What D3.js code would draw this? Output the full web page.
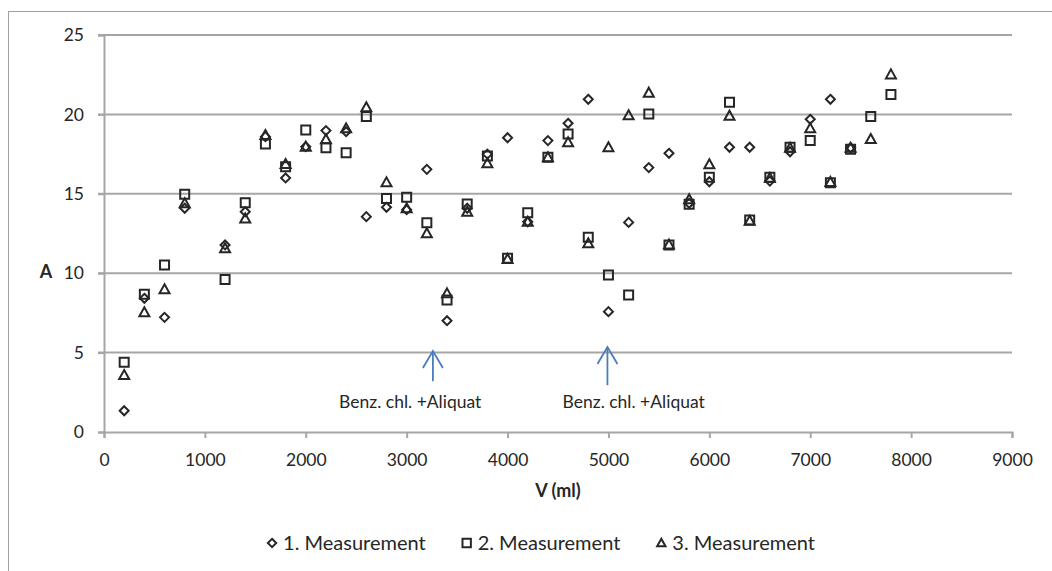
<!DOCTYPE html>
<html>
<head>
<meta charset="utf-8">
<script src="https://cdn.jsdelivr.net/npm/d3@7"></script>
<style>
  body { margin: 0; background: #fff; }
  svg { display: block; font-family: Lato, "Open Sans", sans-serif; }
</style>
</head>
<body>
<svg></svg>
<script>
// Data
const volumes = [200, 400, 600, 800, 1200, 1400, 1600, 1800, 2000, 2200, 2400, 2600, 2800, 3000, 3200, 3400, 3600, 3800, 4000, 4200, 4400, 4600, 4800, 5000, 5200, 5400, 5600, 5800, 6000, 6200, 6400, 6600, 6800, 7000, 7200, 7400, 7600, 7800];
const measurement1 = [1.34, 8.42, 7.22, 14.09, 11.78, 13.87, 18.6, 16.0, 17.97, 18.98, 18.91, 13.56, 14.15, 14.0, 16.54, 7.01, 14.09, 17.5, 18.53, 13.24, 18.35, 19.44, 20.95, 7.58, 13.2, 16.65, 17.55, 14.4, 15.76, 17.93, 17.93, 15.8, 17.65, 19.69, 20.95, 17.9, null, null];
const measurement2 = [4.39, 8.67, 10.52, 14.97, 9.61, 14.44, 18.14, 16.7, 19.02, 17.9, 17.59, 19.86, 14.71, 14.78, 13.18, 8.31, 14.36, 17.38, 10.94, 13.81, 17.3, 18.77, 12.26, 9.89, 8.63, 20.02, 11.78, 14.34, 16.04, 20.76, 13.35, 16.04, 17.93, 18.35, 15.7, 17.8, 19.86, 21.26];
const measurement3 = [3.59, 7.54, 8.99, 14.4, 11.57, 13.45, 18.7, 16.88, 17.97, 18.43, 19.12, 20.45, 15.72, 14.09, 12.51, 8.73, 13.87, 16.92, 10.9, 13.24, 17.3, 18.24, 11.88, 17.93, 19.94, 21.37, 11.8, 14.65, 16.86, 19.92, 13.3, 16.0, 17.9, 19.12, 15.75, 17.9, 18.45, 22.52];
const seriesNames = ["1. Measurement", "2. Measurement", "3. Measurement"];
const xTicks = [0, 1000, 2000, 3000, 4000, 5000, 6000, 7000, 8000, 9000];
const yTicks = [0, 5, 10, 15, 20, 25];

// annotations: arrow at x (data units) from tail value to tip value, label starts at labelX
const notes = [
  { x: 3260, tip: 5.1, tail: 3.2, labelX: 2330, labelY: 1.5, text: "Benz. chl. +Aliquat" },
  { x: 4990, tip: 5.35, tail: 2.95, labelX: 4545, labelY: 1.5, text: "Benz. chl. +Aliquat" }
];

const width = 1052, height = 571;
const svg = d3.select("svg").attr("width", width).attr("height", height);

const x = d3.scaleLinear().domain([0, 9000]).range([104, 1012]);
const y = d3.scaleLinear().domain([0, 25]).range([432, 35]);

const grey = "#a6a6a6";
const ink = "#262626";

// outer chart border (runs off the right and bottom edges)
svg.append("rect")
  .attr("x", 8.5).attr("y", 11.5)
  .attr("width", width + 20).attr("height", height + 20)
  .attr("fill", "none").attr("stroke", "#a0a0a0").attr("stroke-width", 1);

// horizontal gridlines
svg.append("g")
  .selectAll("line")
  .data(yTicks.filter(d => d > 0))
  .join("line")
  .attr("x1", x(0) - 6).attr("x2", x(9000))
  .attr("y1", d => y(d)).attr("y2", d => y(d))
  .attr("stroke", grey).attr("stroke-width", 2);

// y axis
const yAxis = svg.append("g")
  .attr("transform", `translate(${x(0)},0)`)
  .call(d3.axisLeft(y).tickValues(yTicks).tickSize(6).tickPadding(14));
yAxis.select(".domain").attr("stroke", grey).attr("stroke-width", 2);
yAxis.selectAll(".tick line").attr("stroke", grey).attr("stroke-width", 2);
yAxis.selectAll(".tick text").attr("fill", ink).style("font-size", "17.5px").style("font-family", "Lato");

// x axis
const xAxis = svg.append("g")
  .attr("transform", `translate(0,${y(0)})`)
  .call(d3.axisBottom(x).tickValues(xTicks).tickFormat(d3.format("d")).tickSize(6).tickPadding(16));
xAxis.select(".domain").attr("stroke", grey).attr("stroke-width", 2);
xAxis.selectAll(".tick line").attr("stroke", grey).attr("stroke-width", 2);
xAxis.selectAll(".tick text").attr("fill", ink).style("font-size", "17.5px").style("font-family", "Lato");

// axis titles
svg.append("text")
  .attr("x", x(4500)).attr("y", 497)
  .attr("text-anchor", "middle")
  .attr("fill", ink)
  .style("font-size", "18px").style("font-weight", "bold")
  .text("V (ml)");

svg.append("text")
  .attr("x", 46).attr("y", 278)
  .attr("text-anchor", "middle")
  .attr("fill", ink)
  .style("font-size", "18px").style("font-weight", "bold")
  .text("A");

// marker shapes (Excel-like: open, equal width/height diamond)
const diamond = {
  draw(ctx, size) {
    const r = Math.sqrt(size) / 2;
    ctx.moveTo(0, -r); ctx.lineTo(r, 0); ctx.lineTo(0, r); ctx.lineTo(-r, 0); ctx.closePath();
  }
};
const square = {
  draw(ctx, size) {
    const r = Math.sqrt(size) / 2;
    ctx.rect(-r, -r, 2 * r, 2 * r);
  }
};
const triangle = {
  draw(ctx, size) {
    const r = Math.sqrt(size) / 2;
    ctx.moveTo(0, -r); ctx.lineTo(r, r * 0.8); ctx.lineTo(-r, r * 0.8); ctx.closePath();
  }
};

const series = [
  { name: seriesNames[0], values: measurement1, shape: diamond, size: 81 },
  { name: seriesNames[1], values: measurement2, shape: square, size: 81 },
  { name: seriesNames[2], values: measurement3, shape: triangle, size: 100 }
];

series.forEach(s => {
  const pts = volumes.map((v, i) => ({ v, a: s.values[i] })).filter(d => d.a != null);
  svg.append("g")
    .selectAll("path")
    .data(pts)
    .join("path")
    .attr("transform", d => `translate(${x(d.v)},${y(d.a)})`)
    .attr("d", d3.symbol().type(s.shape).size(s.size))
    .attr("fill", "none")
    .attr("stroke", ink)
    .attr("stroke-width", 2);
});

// annotations
const blue = "#4a7ebb";
const noteG = svg.append("g");
notes.forEach(n => {
  const ax = x(n.x), tipY = y(n.tip), tailY = y(n.tail);
  noteG.append("line")
    .attr("x1", ax).attr("x2", ax).attr("y1", tailY).attr("y2", tipY)
    .attr("stroke", blue).attr("stroke-width", 1.8);
  noteG.append("path")
    .attr("d", `M${ax - 10},${tipY + 17}L${ax},${tipY}L${ax + 10},${tipY + 17}`)
    .attr("fill", "none").attr("stroke", blue).attr("stroke-width", 1.8);
  noteG.append("text")
    .attr("x", x(n.labelX)).attr("y", y(n.labelY))
    .attr("fill", ink)
    .style("font-size", "17.5px")
    .text(n.text);
});

// legend
const legend = svg.append("g");
const gap = 36;
let lx = 0;
series.forEach((s, i) => {
  const item = legend.append("g").attr("transform", `translate(${lx},0)`);
  item.append("path")
    .attr("transform", "translate(5,-7)")
    .attr("d", d3.symbol().type(s.shape).size(70))
    .attr("fill", "none").attr("stroke", ink).attr("stroke-width", 2);
  const t = item.append("text")
    .attr("x", 16).attr("y", 0)
    .attr("fill", ink)
    .style("font-size", "20px")
    .text(s.name);
  lx += 16 + t.node().getComputedTextLength() + gap;
});
const legendWidth = lx - gap;
legend.attr("transform", `translate(${541 - legendWidth / 2},550)`);
</script>
</body>
</html>
